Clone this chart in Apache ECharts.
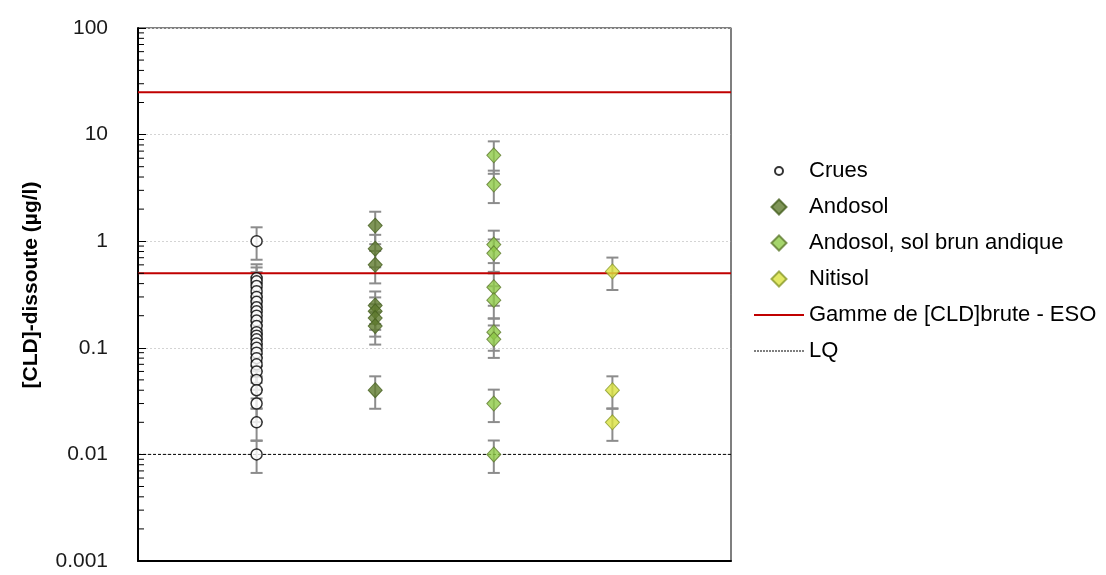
<!DOCTYPE html>
<html>
<head>
<meta charset="utf-8">
<script src="https://cdn.jsdelivr.net/npm/echarts@6/dist/echarts.min.js"></script>
<style>
  html, body { margin: 0; padding: 0; background: #fff; }
  #chart { width: 1106px; height: 575px; }
</style>
</head>
<body>
<div id="chart"></div>
<script>
// ---- Data ----
const SERIES_NAMES = ['Crues', 'Andosol', 'Andosol, sol brun andique', 'Nitisol'];
const SERIES_X = [1, 2, 3, 4];
const CRUES = [1.0, 0.45, 0.42, 0.38, 0.34, 0.30, 0.27, 0.24, 0.22, 0.20, 0.18, 0.16, 0.14, 0.13, 0.12, 0.11, 0.10, 0.09, 0.08, 0.07, 0.06, 0.05, 0.04, 0.03, 0.02, 0.01];
const ANDOSOL = [1.4, 0.85, 0.6, 0.25, 0.22, 0.19, 0.16, 0.04];
const ANDOSOL_BRUN = [6.4, 3.4, 0.93, 0.77, 0.37, 0.28, 0.14, 0.12, 0.03, 0.01];
const NITISOL = [0.52, 0.04, 0.02];
const ERR_UP = 0.35;    // relative error bar (upper)
const ERR_DOWN = 0.33;  // relative error bar (lower)
const ESO_RANGE = [25, 0.5];
const LQ = 0.01;
const LINE_NAMES = ['Gamme de [CLD]brute - ESO', 'LQ'];
const Y_TITLE = '[CLD]-dissoute (µg/l)';
const Y_MIN = 0.001, Y_MAX = 100;
const Y_DECADES = [0.001, 0.01, 0.1, 1, 10];
const MINOR_STEPS = [2, 3, 4, 5, 6, 7, 8, 9];

const FONT = '"Liberation Sans", Arial, sans-serif';
const ALL_VALUES = [CRUES, ANDOSOL, ANDOSOL_BRUN, NITISOL];

const toPoints = (vals, x) => vals.map(v => [x, v]);

const errorRender = (params, api) => {
  const x = api.value(0), v = api.value(1);
  const hi = api.coord([x, v * (1 + ERR_UP)]);
  const lo = api.coord([x, v * (1 - ERR_DOWN)]);
  const hw = 6;
  const st = { stroke: '#8c8c8c', lineWidth: 2 };
  return {
    type: 'group',
    children: [
      { type: 'line', shape: { x1: hi[0], y1: hi[1], x2: lo[0], y2: lo[1] }, style: st },
      { type: 'line', shape: { x1: hi[0] - hw, y1: hi[1], x2: hi[0] + hw, y2: hi[1] }, style: st },
      { type: 'line', shape: { x1: lo[0] - hw, y1: lo[1], x2: lo[0] + hw, y2: lo[1] }, style: st }
    ]
  };
};

const minorTickValues = [];
Y_DECADES.forEach(d => MINOR_STEPS.forEach(m => minorTickValues.push([0, d * m])));

// legend icon paths (bounding box 50 x 16, same as legend item box)
const BOX = 'path://M0,0M50,16';
const solidLineIcon = BOX + 'M0,7h50v2h-50z';
let dashPath = BOX;
for (let x = 0; x < 50; x += 3) dashPath += 'M' + x + ',7.5h2v1h-2z';
const dashedLineIcon = dashPath;
const circleIcon = BOX + 'M21,8A4,4 0 1,1 29,8A4,4 0 1,1 21,8Z';
const diamondIcon = BOX + 'M17.5,8L25,0.5L32.5,8L25,15.5Z';

const markerStyles = [
  { symbol: 'circle', symbolSize: 11, itemStyle: { color: '#ffffff', borderColor: '#000000', borderWidth: 1.5 } },
  { symbol: 'diamond', symbolSize: [14, 15], itemStyle: { color: '#5f7b2e', borderColor: '#46601f', borderWidth: 1 } },
  { symbol: 'diamond', symbolSize: [14, 15], itemStyle: { color: '#8ecb47', borderColor: '#5f7b2e', borderWidth: 1 } },
  { symbol: 'diamond', symbolSize: [14, 15], itemStyle: { color: '#dbe23f', borderColor: '#8a9a2a', borderWidth: 1 } }
];

const series = [];
// error bars
ALL_VALUES.forEach((vals, i) => {
  series.push({
    type: 'custom', name: 'err' + i, renderItem: errorRender,
    data: toPoints(vals, SERIES_X[i]), z: 2, silent: true
  });
});
// reference lines
ESO_RANGE.forEach(v => {
  series.push({
    type: 'line', name: LINE_NAMES[0], symbol: 'none', z: 3,
    data: [[0, v], [5, v]],
    lineStyle: { color: '#c00000', width: 2 }, itemStyle: { color: '#c00000' }
  });
});
series.push({
  type: 'line', name: LINE_NAMES[1], symbol: 'none', z: 3,
  data: [[0, LQ], [5, LQ]],
  lineStyle: { color: '#000000', width: 1, type: [3, 2] }, itemStyle: { color: '#000000' }
});
// markers
ALL_VALUES.forEach((vals, i) => {
  series.push(Object.assign({
    type: 'scatter', name: SERIES_NAMES[i], z: 5,
    data: toPoints(vals, SERIES_X[i])
  }, markerStyles[i]));
});
// log minor ticks on the left axis
series.push({
  type: 'custom', name: 'minorTicks', silent: true, z: 6,
  renderItem: (params, api) => {
    const p = api.coord([api.value(0), api.value(1)]);
    return { type: 'line', shape: { x1: p[0], y1: p[1], x2: p[0] + 6, y2: p[1] }, style: { stroke: '#000', lineWidth: 1 } };
  },
  data: minorTickValues
});

const chart = echarts.init(document.getElementById('chart'), null, { renderer: 'canvas' });
chart.setOption({
  animation: false,
  backgroundColor: '#ffffff',
  grid: { left: 138, right: 375, top: 28, bottom: 14, show: true, borderColor: '#000', borderWidth: 1, backgroundColor: 'transparent' },
  graphic: [{
    type: 'text', x: 31, y: 285, rotation: Math.PI / 2,
    style: { text: Y_TITLE, font: 'bold 21px ' + FONT, fill: '#000', align: 'center', verticalAlign: 'middle' }
  }],
  legend: {
    orient: 'vertical', left: 748, top: 155, padding: 5,
    itemWidth: 50, itemHeight: 16, itemGap: 14,
    symbolKeepAspect: true,
    textStyle: { fontFamily: FONT, fontSize: 22, color: '#000' },
    data: [
      { name: SERIES_NAMES[0], icon: circleIcon },
      { name: SERIES_NAMES[1], icon: diamondIcon },
      { name: SERIES_NAMES[2], icon: diamondIcon },
      { name: SERIES_NAMES[3], icon: diamondIcon },
      { name: LINE_NAMES[0], icon: solidLineIcon },
      { name: LINE_NAMES[1], icon: dashedLineIcon }
    ],
    selectedMode: false
  },
  xAxis: {
    type: 'value', min: 0, max: 5,
    axisLine: { show: true, lineStyle: { color: '#000', width: 2 } },
    axisTick: { show: false }, axisLabel: { show: false }, splitLine: { show: false }
  },
  yAxis: [{
    type: 'log', logBase: 10, min: Y_MIN, max: Y_MAX,
    axisLine: { show: true, lineStyle: { color: '#000', width: 2 } },
    axisTick: { show: true, inside: true, length: 8, lineStyle: { color: '#000' } },
    axisLabel: { fontFamily: FONT, fontSize: 21, color: '#1a1a1a', margin: 30,
      formatter: v => String(Number(v.toPrecision(3))) },
    splitLine: { show: true, lineStyle: { color: '#d4d4d4', type: [2, 2], width: 1 } }
  }, {
    type: 'log', logBase: 10, min: Y_MIN, max: Y_MAX, position: 'right',
    axisLine: { show: true, lineStyle: { color: '#7f7f7f', width: 1.5 } },
    axisTick: { show: false }, axisLabel: { show: false }, splitLine: { show: false }
  }],
  series: series
});
</script>
</body>
</html>
